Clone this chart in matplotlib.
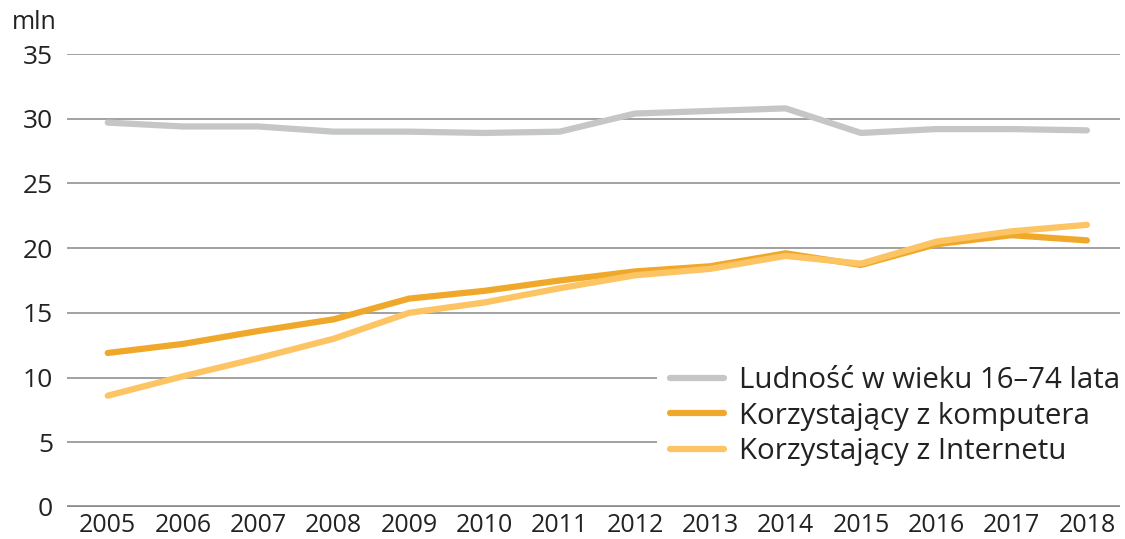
import matplotlib
matplotlib.use("Agg")
import matplotlib.pyplot as plt

# dane (mln)
years = [2005, 2006, 2007, 2008, 2009, 2010, 2011, 2012, 2013, 2014, 2015, 2016, 2017, 2018]
ludnosc = [29.7, 29.4, 29.4, 29.0, 29.0, 28.9, 29.0, 30.4, 30.6, 30.8, 28.9, 29.2, 29.2, 29.1]
komputer = [11.9, 12.6, 13.6, 14.5, 16.1, 16.7, 17.5, 18.2, 18.6, 19.6, 18.7, 20.3, 21.0, 20.6]
internet = [8.6, 10.1, 11.5, 13.0, 15.0, 15.8, 16.9, 17.9, 18.4, 19.4, 18.8, 20.5, 21.3, 21.8]
y_ticks = [0, 5, 10, 15, 20, 25, 30, 35]

labels = ["Ludność w wieku 16–74 lata", "Korzystający z komputera", "Korzystający z Internetu"]
colors = ["#c5c7c6", "#f0a82a", "#fcc463"]

plt.rcParams['font.family'] = ['Open Sans', 'DejaVu Sans']

fig = plt.figure(figsize=(11.25, 5.39), dpi=100)
ax = fig.add_axes([0.0596, 0.0594, 0.936, 0.8404])

# linie siatki
for t in y_ticks[1:]:
    ax.axhline(t, color="#9a9a9a", lw=1.3, zorder=1)
ax.axhline(0, color="#8a8a8a", lw=2.6, zorder=1)

series = [ludnosc, komputer, internet]
for vals, lab, col in zip(series, labels, colors):
    ax.plot(years, vals, color=col, lw=4.5, label=lab, solid_capstyle="round",
            solid_joinstyle="round", zorder=3)

ax.set_xlim(2004.46, 2018.44)
ax.set_ylim(0, 35)
ax.set_xticks(years)
ax.set_yticks(y_ticks)
ax.tick_params(axis="both", length=0, colors="#222222")
ax.tick_params(axis="y", pad=10, labelsize=19)
ax.tick_params(axis="x", pad=4, labelsize=18)
for s in ax.spines.values():
    s.set_visible(False)

fig.text(0.011, 0.935, "mln", fontsize=18, color="#222222", ha="left", va="bottom")

leg = ax.legend(loc="upper left", bbox_to_anchor=(0.56, 0.34), frameon=True,
                fontsize=21.2, handlelength=1.85, handletextpad=0.5, labelspacing=0.22,
                borderaxespad=0, borderpad=0.45)
leg.get_frame().set_facecolor("white")
leg.get_frame().set_edgecolor("none")
leg.get_frame().set_alpha(1)
leg.set_zorder(5)
for t in leg.get_texts():
    t.set_color("#222222")

fig.savefig("out.png", dpi=100)
